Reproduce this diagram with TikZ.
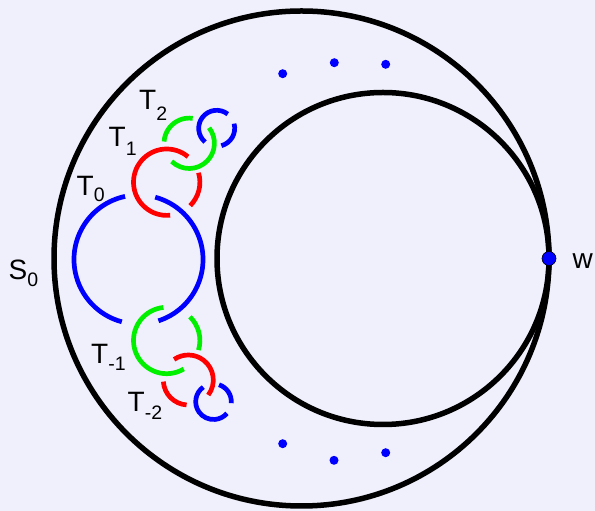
\documentclass[tikz,border=0pt]{standalone}
\usepackage{fontspec}
\setmainfont{Liberation Sans}
\usetikzlibrary{calc}

\newcommand{\sublab}[3][7]{#2\raisebox{-#1pt}{\fontsize{19.5}{19.5}\selectfont #3}}

\begin{document}
\begin{tikzpicture}[x=1pt, y=1pt,
    labelText/.style={font=\fontsize{28}{28}\selectfont, inner sep=0pt, anchor=base west},
    ringStyle/.style={line width=4.7pt, line cap=butt}]
    % Define colours
    \definecolor{bgColour}{HTML}{F0F0FC}
    \definecolor{ringBlue}{HTML}{0000FF}
    \definecolor{ringRed}{HTML}{FF0000}
    \definecolor{ringGreen}{HTML}{00F000}

    % Define sphere line width
    \def\sphereWidth{5.5pt}

    % Draw background
    \fill[bgColour] (0,0) rectangle (595,511);
    \useasboundingbox (0,0) rectangle (595,511);

    % Define centres
    \coordinate (S0) at (301.5,252.5);
    \coordinate (S1) at (383,252.5);
    \coordinate (W) at (549,252.5);
    \coordinate (T0) at (138.5,251.5);
    \coordinate (T1) at (166.7,328.8);
    \coordinate (T2) at (189.2,367.7);
    \coordinate (T3) at (216.7,382.7);
    \coordinate (Tm1) at (166.7,170.5);
    \coordinate (Tm2) at (188.3,131);
    \coordinate (Tm3) at (213.5,109.3);

    % Draw the two spheres
    \draw[line width=\sphereWidth] (S0) circle (247.5);
    \draw[line width=\sphereWidth] (S1) circle (166);

    % Draw the linked rings, two arcs each
    \foreach \ring/\rad/\from/\to/\col in {
        T0/64.5/102/255/ringBlue, T0/64.5/-72/75/ringBlue,
        T1/33.2/50/276/ringRed, T1/33.2/-45/16.5/ringRed,
        T2/25.2/82/176/ringGreen, T2/25.2/-134/38/ringGreen,
        T3/18/52/230/ringBlue, T3/18/-75/15/ringBlue,
        Tm1/33.2/95.7/301/ringGreen, Tm1/33.2/-16.7/45.6/ringGreen,
        Tm2/25/-37/124.6/ringRed, Tm2/25/183.7/266/ringRed,
        Tm3/17.8/125/319/ringBlue, Tm3/17.8/-5/72/ringBlue}
        \draw[ringStyle, draw=\col] ([shift={(\from:\rad)}]\ring) arc (\from:\to:\rad);

    % Draw the dots
    \foreach \p in {(282.7,437.3), (334.3,448.3), (385.7,446.7),
                    (282.7,67.3), (334,50.7), (385.7,58.3)}
        \fill[ringBlue] \p circle (4.5);

    % Draw point w
    \filldraw[fill=ringBlue, draw=black, line width=0.6pt] (W) circle (7);

    % Labels
    \node[labelText] (labelS0) at (8.5,231.5) {\sublab{S}{0}};
    \node[labelText] (labelW) at (572.5,242.7) {w};
    \node[labelText] (labelT0) at (76.5,315) {\sublab[6]{T}{0}};
    \node[labelText] (labelT1) at (108.5,364.3) {\sublab[9]{T}{1}};
    \node[labelText] (labelT2) at (139,401.7) {\sublab[11]{T}{2}};
    \node[labelText] (labelTm1) at (91,147.7) {\sublab{T}{-1}};
    \node[labelText] (labelTm2) at (127.5,99.3) {\sublab[8]{T}{-2}};

\end{tikzpicture}
\end{document}
